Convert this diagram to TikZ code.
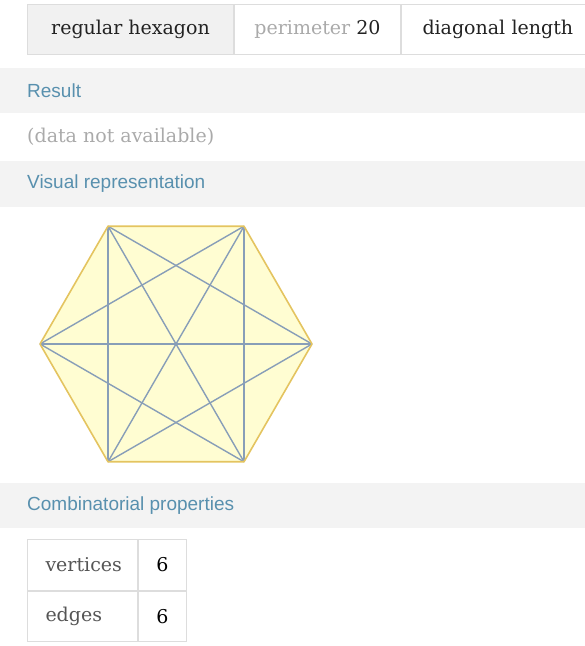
\documentclass[tikz,border=0pt]{standalone}
\usepackage{fontspec}
\setmainfont{DejaVu Serif}
\newfontfamily\headfont{Liberation Sans}
\usetikzlibrary{positioning}

\definecolor{bandgray}{RGB}{243,243,243}
\definecolor{cellgray}{RGB}{241,241,241}
\definecolor{rulegray}{RGB}{221,221,221}
\definecolor{headblue}{RGB}{88,144,174}
\definecolor{softgray}{RGB}{170,170,170}
\definecolor{inkdark}{RGB}{34,34,34}
\definecolor{inkmid}{RGB}{85,85,85}
\definecolor{hexfill}{RGB}{255,253,210}
\definecolor{hexedge}{RGB}{228,196,96}
\definecolor{diagblue}{RGB}{136,158,184}

\begin{document}
\begin{tikzpicture}[
  x=1pt, y=-1pt,
  cell/.style={draw=rulegray, line width=1pt, rectangle, inner sep=0pt,
    minimum height=50pt, font=\fontsize{19}{22}\selectfont, text=inkdark},
  band/.style={fill=bandgray},
  head/.style={anchor=west, inner sep=0pt, text=headblue,
    font=\headfont\fontsize{19}{22}\selectfont},
  vertex/.style={inner sep=0pt, minimum size=0pt}
]
  \useasboundingbox (0,0) rectangle (585,646);

  % Input row
  \node[cell, fill=cellgray, minimum width=206pt, anchor=north west] (shape) at (27,4) {regular hexagon};
  \node[cell, minimum width=166pt, right=0pt of shape] (perim) {\textcolor{softgray}{perimeter} 20};
  \node[cell, minimum width=220pt, right=0pt of perim, text width=178pt, align=left] (diag) {diagonal length};

  % Section bands
  \fill[band] (0,68) rectangle (585,113);
  \node[head] (result) at (27,90.5) {Result};
  \node[anchor=west, inner sep=0pt, text=softgray, font=\fontsize{19}{22}\selectfont] (nodata) at (27,137) {(data not available)};
  \fill[band] (0,161) rectangle (585,207);
  \node[head] (visual) at (27,184) {Visual representation};

  % Hexagon with all its diagonals
  \foreach \i in {0,...,5}
    \coordinate (h\i) at ([shift={(176,344)}]\i*60:136);
  \fill[hexfill] (h0) -- (h1) -- (h2) -- (h3) -- (h4) -- (h5) -- cycle;
  \foreach \a/\b in {0/2,0/3,0/4,1/3,1/4,1/5,2/4,2/5,3/5}
    \draw[diagblue, line width=1.4pt] (h\a) -- (h\b);
  \draw[hexedge, line width=1.6pt, line join=round] (h0) -- (h1) -- (h2) -- (h3) -- (h4) -- (h5) -- cycle;

  % Combinatorial properties
  \fill[band] (0,483) rectangle (585,528);
  \node[head] (combi) at (27,505.5) {Combinatorial properties};
  \node[cell, minimum width=110pt, minimum height=51pt, anchor=north west, text=inkmid, text width=74pt, align=left] (vlabel) at (27,539) {vertices};
  \node[cell, minimum width=48pt, minimum height=51pt, right=0pt of vlabel, text=black] (vval) {6};
  \node[cell, minimum width=110pt, below=0pt of vlabel, text=inkmid, text width=74pt, align=left] (elabel) {edges};
  \node[cell, minimum width=48pt, right=0pt of elabel, text=black] (eval) {6};
\end{tikzpicture}
\end{document}
